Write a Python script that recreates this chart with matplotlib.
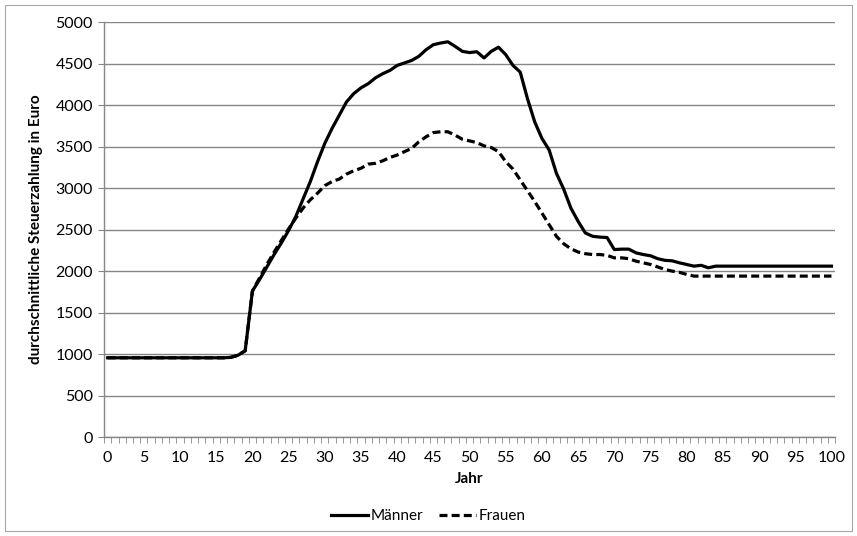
import numpy as np
import matplotlib.pyplot as plt
from matplotlib.patches import Rectangle
from matplotlib.ticker import MultipleLocator

plt.rcParams['font.family'] = ['Lato', 'DejaVu Sans']

# Alter 0..100
jahr = np.arange(0, 101)

# durchschnittliche Steuerzahlung, Männer
maenner = [955] * 17 + [
    960, 985, 1040,                                     # 17-19
    1760, 1900, 2050, 2200, 2340, 2490, 2660, 2870, 3080, 3320,   # 20-29
    3540, 3720, 3880, 4040, 4140, 4210, 4260, 4330, 4380, 4420,   # 30-39
    4480, 4510, 4540, 4590, 4670, 4730, 4750, 4765, 4710, 4650,   # 40-49
    4635, 4645, 4570, 4650, 4700, 4610, 4480, 4400, 4080, 3800,   # 50-59
    3600, 3460, 3180, 2990, 2760, 2600, 2460, 2420, 2410, 2405,   # 60-69
    2260, 2265, 2265, 2220, 2200, 2185, 2150, 2130, 2124, 2100,   # 70-79
    2080, 2060, 2070, 2040,                             # 80-83
] + [2060] * 17

# durchschnittliche Steuerzahlung, Frauen
frauen = [955] * 17 + [
    960, 985, 1040,                                     # 17-19
    1760, 1920, 2080, 2230, 2370, 2510, 2640, 2760, 2860, 2940,   # 20-29
    3030, 3080, 3110, 3170, 3210, 3240, 3290, 3300, 3330, 3370,   # 30-39
    3400, 3440, 3480, 3560, 3620, 3670, 3680, 3680, 3640, 3590,   # 40-49
    3570, 3550, 3510, 3490, 3440, 3320, 3230, 3100, 2970, 2840,   # 50-59
    2700, 2560, 2420, 2330, 2270, 2230, 2210, 2200, 2200, 2190,   # 60-69
    2160, 2160, 2150, 2120, 2100, 2080, 2050, 2020, 2000, 1985,   # 70-79
    1960, 1940,                                         # 80-81
] + [1940] * 19

grau = '#868686'

fig = plt.figure(figsize=(8.57, 5.36), dpi=100)
ax = fig.add_axes([0.1214, 0.1847, 0.853, 0.7737])

# Rahmen um das ganze Diagramm
fig.patches.append(Rectangle((0.006, 0.009), 0.988, 0.981, transform=fig.transFigure,
                             fill=False, edgecolor='#a6a6a6', linewidth=0.8))

ax.plot(jahr, maenner, color='black', linewidth=2.3, label='Männer',
        solid_joinstyle='round')
ax.plot(jahr, frauen, color='black', linewidth=2.3, label='Frauen',
        dashes=(2.5, 1.3))

ax.set_xlim(-0.5, 100.5)
ax.set_ylim(0, 5000)
ax.yaxis.set_major_locator(MultipleLocator(500))
ax.set_xticks(np.arange(0, 101, 5))
ax.set_xticks(np.arange(-0.5, 101, 1), minor=True)
ax.tick_params(axis='x', which='major', length=0, pad=10, labelsize=11.5)
ax.tick_params(axis='x', which='minor', length=4, color=grau, direction='out')
ax.tick_params(axis='y', which='major', length=4, color=grau, pad=4, labelsize=11.5)

ax.grid(axis='y', color=grau, linewidth=1.0)
ax.set_axisbelow(True)
for s in ['top', 'right']:
    ax.spines[s].set_visible(False)
for s in ['left', 'bottom']:
    ax.spines[s].set_color(grau)
    ax.spines[s].set_linewidth(1.0)

ax.set_xlabel('Jahr', fontweight='bold', fontsize=11, labelpad=5)
ax.set_ylabel('durchschnittliche Steuerzahlung in Euro', fontweight='bold',
              fontsize=11, labelpad=9)

fig.legend(loc='center', bbox_to_anchor=(0.5, 0.037), ncol=2, frameon=False,
           fontsize=11, handlelength=2.4, columnspacing=1.0, handletextpad=0.2)

fig.savefig('out.png', dpi=100)
